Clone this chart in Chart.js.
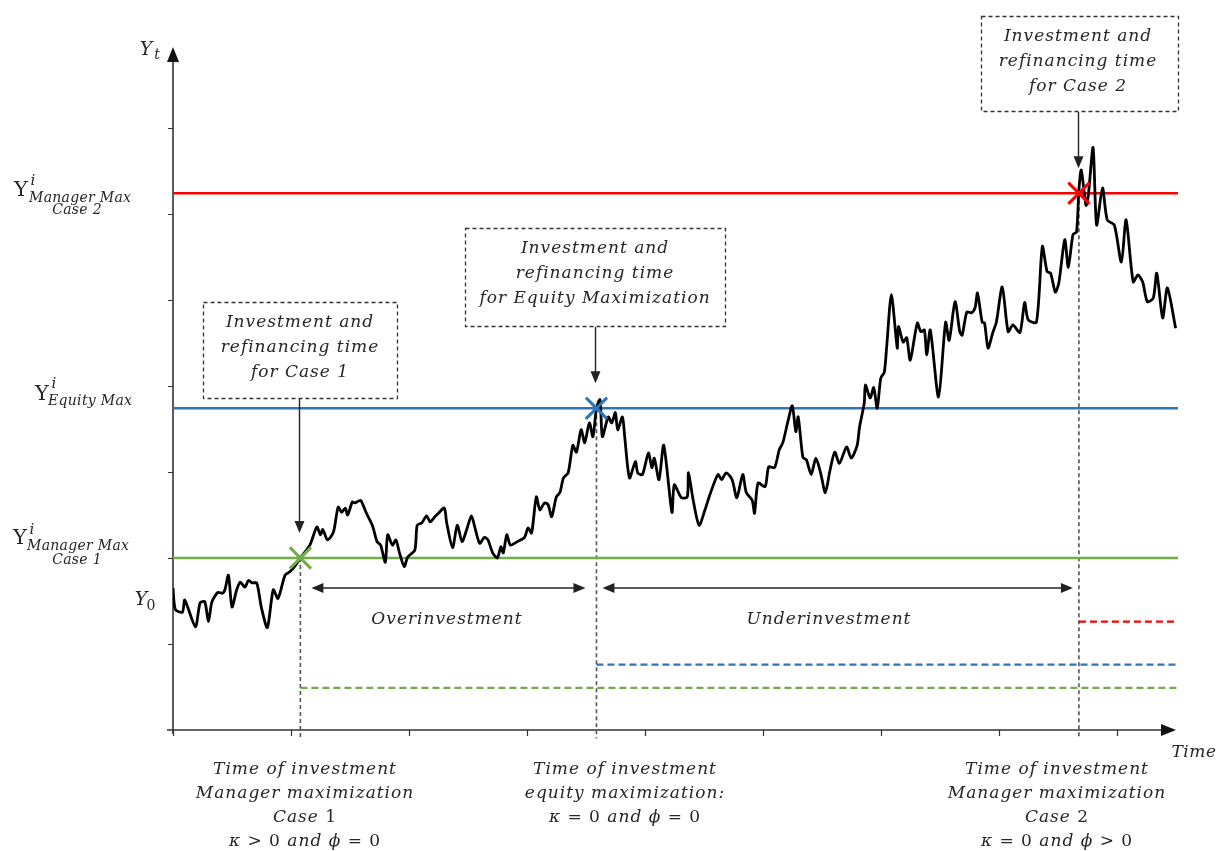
<!DOCTYPE html>
<html>
<head>
<meta charset="utf-8">
<script src="https://cdn.jsdelivr.net/npm/chart.js@4.4.1/dist/chart.umd.min.js"></script>
<style>
html,body{margin:0;padding:0;background:#fff;}
canvas{display:block;}
</style>
</head>
<body>
<canvas id="c" width="1219" height="851"></canvas>
<script>
// ---- data (time units = axis tick interval, value units = axis tick interval) ----
const pathT = [0,0.02,0.08,0.10,0.19,0.23,0.27,0.30,0.33,0.38,0.42,0.44,0.47,0.50,0.54,0.57,0.61,0.64,0.67,0.71,
0.75,0.80,0.85,0.89,0.95,0.99,1.03,1.08,1.16,1.22,1.25,1.27,1.31,1.36,1.40,1.43,1.46,1.48,1.52,1.54,
1.59,1.61,1.64,1.69,1.73,1.76,1.80,1.82,1.86,1.89,1.92,1.96,1.99,2.05,2.07,2.11,2.15,2.18,2.22,2.25,
2.30,2.32,2.37,2.41,2.45,2.49,2.53,2.56,2.60,2.64,2.67,2.71,2.75,2.78,2.80,2.83,2.86,2.92,2.98,3.01,
3.04,3.08,3.11,3.15,3.18,3.21,3.25,3.28,3.31,3.35,3.39,3.42,3.46,3.49,3.53,3.56,3.59,3.62,3.64,3.69,
3.72,3.75,3.77,3.81,3.83,3.87,3.92,3.94,3.98,4.03,4.06,4.08,4.12,4.16,4.23,4.25,4.31,4.36,4.37,4.41,
4.46,4.51,4.55,4.62,4.65,4.69,4.74,4.78,4.83,4.86,4.91,4.93,4.96,5.02,5.05,5.10,5.14,5.17,5.21,5.25,
5.28,5.30,5.34,5.37,5.41,5.45,5.49,5.53,5.57,5.61,5.65,5.71,5.75,5.80,5.82,5.86,5.87,5.91,5.94,5.97,
6.00,6.03,6.05,6.09,6.14,6.15,6.19,6.22,6.25,6.31,6.34,6.37,6.39,6.42,6.49,6.55,6.58,6.63,6.67,6.69,
6.73,6.77,6.80,6.82,6.86,6.88,6.91,6.95,6.98,7.03,7.08,7.12,7.18,7.22,7.25,7.32,7.37,7.41,7.44,7.48,
7.51,7.56,7.59,7.63,7.66,7.68,7.70,7.74,7.76,7.80,7.83,7.88,7.92,7.98,8.04,8.08,8.14,8.18,8.22,8.26,
8.31,8.34,8.39,8.43,8.50];
const pathY = [1.65,1.40,1.37,1.51,1.20,1.48,1.49,1.26,1.49,1.60,1.59,1.63,1.80,1.43,1.63,1.72,1.66,1.74,1.71,1.71,
1.42,1.19,1.63,1.53,1.80,1.84,1.90,2.00,2.15,2.36,2.27,2.33,2.21,2.30,2.59,2.53,2.58,2.50,2.65,2.64,
2.67,2.62,2.52,2.38,2.19,2.15,1.95,2.27,2.15,2.21,2.06,1.90,2.01,2.09,2.38,2.41,2.49,2.42,2.48,2.52,
2.58,2.41,2.12,2.38,2.19,2.33,2.49,2.35,2.17,2.24,2.21,2.06,2.00,2.13,2.06,2.27,2.15,2.19,2.24,2.35,
2.29,2.71,2.56,2.64,2.62,2.48,2.71,2.76,2.93,2.99,3.31,3.23,3.49,3.34,3.57,3.41,3.74,3.84,3.41,3.64,
3.57,3.69,3.49,3.64,3.40,2.93,3.12,2.99,2.97,3.22,3.05,3.16,2.91,3.31,2.53,2.85,2.70,2.71,2.99,2.67,
2.38,2.56,2.73,2.97,2.91,2.99,2.91,2.70,2.97,2.76,2.67,2.52,2.87,2.83,3.06,3.05,3.26,3.34,3.57,3.77,
3.47,3.64,3.17,3.14,2.97,3.16,2.99,2.76,3.02,3.23,3.10,3.29,3.16,3.31,3.52,3.80,4.01,3.86,3.98,3.74,
4.09,4.16,4.45,5.06,4.44,4.69,4.51,4.56,4.30,4.73,4.63,4.65,4.36,4.65,3.87,4.74,4.53,4.98,4.63,4.59,
4.86,4.85,4.91,5.08,4.74,4.73,4.44,4.62,4.74,5.15,4.63,4.71,4.62,4.97,4.77,4.74,5.62,5.33,5.31,5.09,
5.20,5.70,5.38,5.76,5.79,6.28,6.51,6.10,6.22,6.77,5.87,6.30,5.93,5.87,5.44,5.93,5.21,5.29,5.21,4.98,
5.02,5.31,4.79,5.14,4.67];

// thresholds: Manager Max Case 2, Equity Max, Manager Max Case 1
const levelNames  = ['Case 2', 'Equity', 'Case 1'];
const levelValues = [6.24, 3.74, 2.00];
const levelColors = ['#FF0000', '#2E75B6', '#70AD47'];
// investment times for each case
const investTimes = [7.68, 3.59, 1.08];
// lower dashed levels (after investment)
const afterValues = [1.26, 0.76, 0.49];

const xTicks = [0,1,2,3,4,5,6,7,8];
const yTicks = [0,1,2,3,4,5,6,7];
const X_MAX = 8.52, Y_MAX = 7.94, Y_BELOW = -0.10;

// ---- datasets ----
const datasets = [];
for (let i = 0; i < levelValues.length; i++) {
  datasets.push({
    data: [{x: 0, y: levelValues[i]}, {x: X_MAX, y: levelValues[i]}],
    borderColor: levelColors[i], borderWidth: 2.6, pointRadius: 0, order: 5
  });
  datasets.push({
    data: [{x: investTimes[i], y: afterValues[i]}, {x: X_MAX, y: afterValues[i]}],
    borderColor: levelColors[i], borderWidth: 2.4, borderDash: [7, 4], pointRadius: 0, order: 5
  });
  datasets.push({
    data: [{x: investTimes[i], y: levelValues[i]}, {x: investTimes[i], y: Y_BELOW}],
    borderColor: '#555', borderWidth: 1.6, borderDash: [4, 3], pointRadius: 0, order: 6, clip: false
  });
}
datasets.push({
  data: pathT.map((t, i) => ({x: t, y: pathY[i]})),
  borderColor: '#000', borderWidth: 2.8, pointRadius: 0, tension: 0.25, order: 2
});
datasets.push({
  data: investTimes.map((t, i) => ({x: t, y: levelValues[i]})),
  showLine: false, pointStyle: 'crossRot', pointRadius: 15, pointBorderWidth: 3,
  pointBorderColor: levelColors, pointBackgroundColor: levelColors, order: 1
});

const FONT = '"DejaVu Serif", serif';
const TXT = '#262626';

function setFont(ctx, size, italic, spacing) {
  ctx.font = (italic ? 'italic ' : '') + size + 'px ' + FONT;
  ctx.letterSpacing = (spacing || 0) + 'px';
}
function txt(ctx, s, x, y, size, italic, align, spacing) {
  setFont(ctx, size, italic, spacing);
  ctx.textAlign = align || 'center';
  ctx.textBaseline = 'middle';
  ctx.fillText(s, x, y);
  ctx.letterSpacing = '0px';
}
function runs(ctx, parts, cx, y, size, spacing) {
  let w = 0;
  parts.forEach(p => { setFont(ctx, size, p[1], spacing); w += ctx.measureText(p[0]).width; });
  let x = cx - w / 2;
  parts.forEach(p => {
    setFont(ctx, size, p[1], spacing);
    ctx.textAlign = 'left'; ctx.textBaseline = 'middle';
    ctx.fillText(p[0], x, y);
    x += ctx.measureText(p[0]).width;
  });
  ctx.letterSpacing = '0px';
}
function arrowHead(ctx, x, y, dx, dy, len, half) {
  const n = Math.hypot(dx, dy); dx /= n; dy /= n;
  ctx.beginPath();
  ctx.moveTo(x, y);
  ctx.lineTo(x - dx * len - dy * half, y - dy * len + dx * half);
  ctx.lineTo(x - dx * len + dy * half, y - dy * len - dx * half);
  ctx.closePath(); ctx.fill();
}
function dashedBox(ctx, l, t, r, b) {
  ctx.save();
  ctx.strokeStyle = '#333'; ctx.lineWidth = 1.3; ctx.setLineDash([4, 3]);
  ctx.strokeRect(l + 0.5, t + 0.5, r - l, b - t);
  ctx.restore();
}

const axesPlugin = {
  id: 'axesPlugin',
  beforeDatasetsDraw(chart) {
    const ctx = chart.ctx, xs = chart.scales.x, ys = chart.scales.y;
    const x0 = xs.getPixelForValue(0), y0 = ys.getPixelForValue(0);
    ctx.save();
    ctx.strokeStyle = '#333'; ctx.fillStyle = '#111'; ctx.lineWidth = 1.6;
    ctx.beginPath();
    ctx.moveTo(x0, y0 + 4); ctx.lineTo(x0, ys.getPixelForValue(Y_MAX) + 4);
    ctx.moveTo(x0 - 6, y0); ctx.lineTo(xs.getPixelForValue(X_MAX) - 6, y0);
    ctx.stroke();
    ctx.lineWidth = 1.2;
    ctx.beginPath();
    yTicks.forEach(v => { if (v > 0) { const p = Math.round(ys.getPixelForValue(v)) + 0.5; ctx.moveTo(x0 - 5, p); ctx.lineTo(x0, p); } });
    xTicks.forEach(v => { const p = Math.round(xs.getPixelForValue(v)) + 0.5; ctx.moveTo(p, y0); ctx.lineTo(p, y0 + 6); });
    ctx.stroke();
    arrowHead(ctx, x0, ys.getPixelForValue(Y_MAX), 0, -1, 15, 6);
    arrowHead(ctx, xs.getPixelForValue(X_MAX) - 2, y0, 1, 0, 15, 6);
    ctx.restore();
  },
  afterDatasetsDraw(chart) {
    const ctx = chart.ctx, xs = chart.scales.x, ys = chart.scales.y;
    const X = v => xs.getPixelForValue(v), Y = v => ys.getPixelForValue(v);
    ctx.save();
    ctx.fillStyle = TXT;

    // Y axis labels
    txt(ctx, 'Y', 146, 50, 19, true); txt(ctx, 't', 157, 55, 14, true);
    txt(ctx, 'Y', 141, 600, 19, true); txt(ctx, '0', 151, 606, 14, false);

    const yl = [Y(levelValues[0]), Y(levelValues[1]), Y(levelValues[2])];
    // Case 2
    txt(ctx, 'Y', 21, yl[0] - 3, 21, false);
    txt(ctx, 'i', 33, yl[0] - 12, 15, true);
    txt(ctx, 'Manager Max', 29, yl[0] + 5, 14, true, 'left', 0.3);
    txt(ctx, 'Case 2', 77, yl[0] + 17, 14, true, 'center', 0.3);
    // Equity
    txt(ctx, 'Y', 42, yl[1] - 14, 21, false);
    txt(ctx, 'i', 54, yl[1] - 24, 15, true);
    txt(ctx, 'Equity Max', 48, yl[1] - 7, 14, true, 'left', 0.3);
    // Case 1
    txt(ctx, 'Y', 20, yl[2] - 19, 21, false);
    txt(ctx, 'i', 32, yl[2] - 28, 15, true);
    txt(ctx, 'Manager Max', 27, yl[2] - 12, 14, true, 'left', 0.3);
    txt(ctx, 'Case 1', 77, yl[2] + 2, 14, true, 'center', 0.3);

    txt(ctx, 'Time', 1194, 753, 17, true, 'center', 0.5);

    // annotation boxes and arrows
    ctx.strokeStyle = '#222'; ctx.fillStyle = '#222'; ctx.lineWidth = 1.4;
    const boxes = [
      {l: 981, t: 16, r: 1178, b: 111, cx: 1078, lines: ['Investment and', 'refinancing time', 'for Case 2'], i: 0},
      {l: 465, t: 228, r: 725, b: 326, cx: 595, lines: ['Investment and', 'refinancing time', 'for Equity Maximization'], i: 1},
      {l: 203, t: 302, r: 397, b: 398, cx: 300, lines: ['Investment and', 'refinancing time', 'for Case 1'], i: 2}
    ];
    boxes.forEach(bx => {
      dashedBox(ctx, bx.l, bx.t, bx.r, bx.b);
      const ax = Math.round(X(investTimes[bx.i])) - 0.5;
      const tip = Y(levelValues[bx.i]) - 25;
      ctx.beginPath(); ctx.moveTo(ax, bx.b + 1); ctx.lineTo(ax, tip - 10); ctx.stroke();
      arrowHead(ctx, ax, tip, 0, 1, 12, 5);
      ctx.fillStyle = TXT;
      bx.lines.forEach((s, k) => txt(ctx, s, bx.cx, bx.t + 21 + k * 25, 17, true, 'center', 1));
      ctx.fillStyle = '#222';
    });

    // double arrows
    const ay = Y(1.65);
    const seg = [[X(investTimes[2]) + 11, X(investTimes[1]) - 11], [X(investTimes[1]) + 6, X(investTimes[0]) - 6]];
    seg.forEach(s => {
      ctx.beginPath(); ctx.moveTo(s[0] + 8, ay); ctx.lineTo(s[1] - 8, ay); ctx.stroke();
      arrowHead(ctx, s[0], ay, -1, 0, 12, 5);
      arrowHead(ctx, s[1], ay, 1, 0, 12, 5);
    });
    ctx.fillStyle = TXT;
    txt(ctx, 'Overinvestment', 447, 620, 17, true, 'center', 1);
    txt(ctx, 'Underinvestment', 829, 620, 17, true, 'center', 1);

    // bottom labels
    const bl = [
      {cx: 305, lines: [[['Time of investment', true]], [['Manager maximization', true]], [['Case ', true], ['1', false]], [['κ', true], [' > 0 ', false], ['and ', true], ['ϕ', true], [' = 0', false]]]},
      {cx: 625, lines: [[['Time of investment', true]], [['equity maximization:', true]], [['κ', true], [' = 0 ', false], ['and ', true], ['ϕ', true], [' = 0', false]]]},
      {cx: 1057, lines: [[['Time of investment', true]], [['Manager maximization', true]], [['Case ', true], ['2', false]], [['κ', true], [' = 0 ', false], ['and ', true], ['ϕ', true], [' > 0', false]]]}
    ];
    bl.forEach(b => b.lines.forEach((ln, k) => runs(ctx, ln, b.cx, 770 + k * 24, 17, 1)));
    ctx.restore();
  }
};

new Chart(document.getElementById('c'), {
  type: 'line',
  data: {datasets},
  options: {
    responsive: false, animation: false, devicePixelRatio: 1,
    layout: {padding: {left: 173, right: 41, top: 47, bottom: 121}, autoPadding: false},
    plugins: {legend: {display: false}, tooltip: {enabled: false}},
    scales: {
      x: {type: 'linear', min: 0, max: X_MAX, display: false},
      y: {type: 'linear', min: 0, max: Y_MAX, display: false}
    }
  },
  plugins: [axesPlugin]
});
</script>
</body>
</html>
